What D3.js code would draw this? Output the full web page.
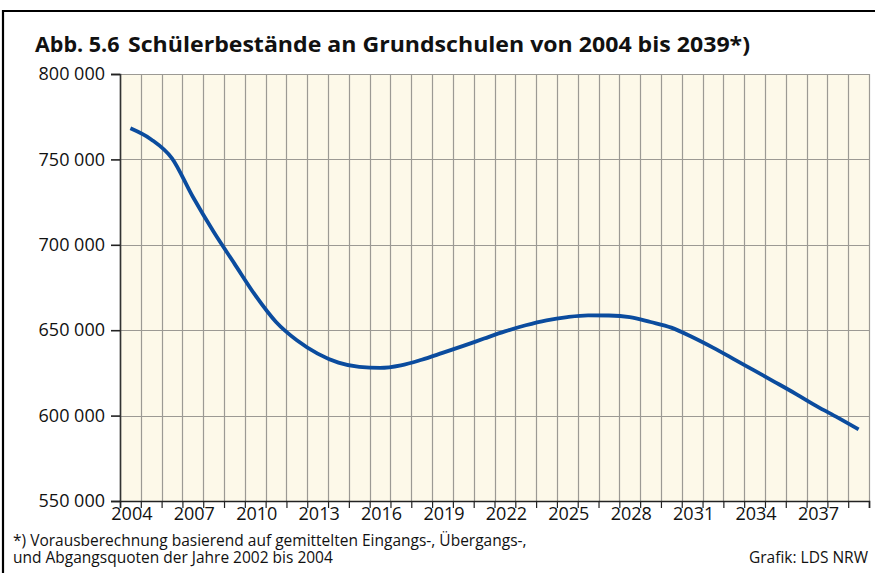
<!DOCTYPE html>
<html>
<head>
<meta charset="utf-8">
<script src="https://cdn.jsdelivr.net/npm/d3@7/dist/d3.min.js"></script>
<style>
  html, body { margin: 0; padding: 0; background: #ffffff; }
  svg { display: block; }
  text { font-family: "Open Sans", "Noto Sans", sans-serif; fill: #111; }
</style>
</head>
<body>
<svg id="chart" width="875" height="573"></svg>
<script>
// ---- data ----
const years = [2004,2005,2006,2007,2008,2009,2010,2011,2012,2013,2014,2015,2016,2017,2018,2019,2020,2021,
               2022,2023,2024,2025,2026,2027,2028,2029,2030,2031,2032,2033,2034,2035,2036,2037,2038,2039];
const pupils = [768200,761700,750600,728100,707600,689000,670500,654800,644100,636300,631000,628500,627900,629400,632700,636700,640800,645100,
                649300,652900,655800,657700,658700,658600,657700,654800,651500,646000,639800,633100,626300,619500,612600,605400,598800,591900];
const yTickValues = [550000,600000,650000,700000,750000,800000];
const xTickLabels = [2004,2007,2010,2013,2016,2019,2022,2025,2028,2031,2034,2037];
const titleNumber = "Abb. 5.6";
const titleText = "Schülerbestände an Grundschulen von 2004 bis 2039*)";
const footnoteLines = ["*) Vorausberechnung basierend auf gemittelten Eingangs-, Übergangs-,",
                       "und Abgangsquoten der Jahre 2002 bis 2004"];
const sourceText = "Grafik: LDS NRW";

(function () {
const svg = d3.select("#chart");
const pLeft = 120, pRight = 869, pTop = 74, pBottom = 501;

const x = d3.scaleBand().domain(years).range([pLeft, pRight]).padding(0);
const xEdge = d3.scaleLinear().domain([years[0], years[years.length-1] + 1]).range([pLeft, pRight]);
const y = d3.scaleLinear().domain([550000, 800000]).range([pBottom, pTop]);

const locale = d3.formatLocale({decimal: ",", thousands: " ", grouping: [3], currency: ["", " €"]});
const fmt = locale.format(",d");

// frame
svg.append("line").attr("x1", 3).attr("x2", 875).attr("y1", 11).attr("y2", 11)
  .attr("stroke", "#000").attr("stroke-width", 2.2);
svg.append("line").attr("x1", 3).attr("x2", 3).attr("y1", 10).attr("y2", 573)
  .attr("stroke", "#000").attr("stroke-width", 2.2);

// title
svg.append("text").attr("x", 35).attr("y", 52).attr("font-weight", "bold").attr("font-size", 21.5)
  .text(titleNumber);
svg.append("text").attr("x", 128).attr("y", 52).attr("font-weight", "bold").attr("font-size", 21.5)
  .attr("textLength", 622).attr("lengthAdjust", "spacingAndGlyphs")
  .text(titleText);

// plot background
svg.append("rect").attr("x", pLeft).attr("y", pTop).attr("width", pRight - pLeft).attr("height", pBottom - pTop)
  .attr("fill", "#fdf9e9");

// vertical grid
const edges = years.concat([years[years.length-1] + 1]);
svg.append("g").selectAll("line").data(edges).join("line")
  .attr("x1", d => Math.round(xEdge(d)) + 0.5).attr("x2", d => Math.round(xEdge(d)) + 0.5)
  .attr("y1", pTop).attr("y2", pBottom)
  .attr("stroke", "#9c9a94").attr("stroke-width", 1.2);

// horizontal grid
svg.append("g").selectAll("line").data(yTickValues).join("line")
  .attr("x1", pLeft).attr("x2", pRight)
  .attr("y1", d => Math.round(y(d)) + 0.5).attr("y2", d => Math.round(y(d)) + 0.5)
  .attr("stroke", "#9c9a94").attr("stroke-width", 1.2);

// y axis
const yAxis = svg.append("g").attr("transform", `translate(${pLeft},0)`)
  .call(d3.axisLeft(y).tickValues(yTickValues).tickSize(9).tickPadding(6).tickFormat(fmt));
yAxis.select(".domain").attr("stroke", "#333").attr("stroke-width", 1.6);
yAxis.selectAll(".tick line").attr("stroke", "#222").attr("stroke-width", 1.6);
yAxis.selectAll(".tick text").attr("font-size", 18).attr("font-family", "Open Sans").attr("fill", "#111");

// x axis ticks at year boundaries
const xAxisTicks = svg.append("g").attr("transform", `translate(0,${pBottom})`)
  .call(d3.axisBottom(xEdge).tickValues(edges).tickSize(7).tickFormat(""));
xAxisTicks.select(".domain").attr("stroke", "#222").attr("stroke-width", 1.6);
xAxisTicks.selectAll(".tick line").attr("stroke", "#222").attr("stroke-width", 1.2);

// x labels at band centers
const xAxisLabels = svg.append("g").attr("transform", `translate(1.5,${pBottom})`)
  .call(d3.axisBottom(x).tickValues(xTickLabels).tickSize(0).tickPadding(6).tickFormat(d3.format("d")));
xAxisLabels.select(".domain").remove();
xAxisLabels.selectAll(".tick text").attr("font-size", 18).attr("font-family", "Open Sans").attr("fill", "#111");

// line
const line = d3.line()
  .x((d, i) => x(years[i]) + x.bandwidth() / 2)
  .y(d => y(d))
  .curve(d3.curveMonotoneX);
svg.append("path").datum(pupils).attr("d", line)
  .attr("fill", "none").attr("stroke", "#0b4c9e").attr("stroke-width", 3.8)
  .attr("stroke-linejoin", "round").attr("stroke-linecap", "butt");

// footnote
svg.append("g").selectAll("text").data(footnoteLines).join("text")
  .attr("x", 13).attr("y", (d, i) => 546 + i * 16.5)
  .attr("font-size", 15.5).text(d => d);
svg.append("text").attr("x", 868).attr("y", 563).attr("text-anchor", "end")
  .attr("font-size", 15.5).text(sourceText);
})();
</script>
</body>
</html>
